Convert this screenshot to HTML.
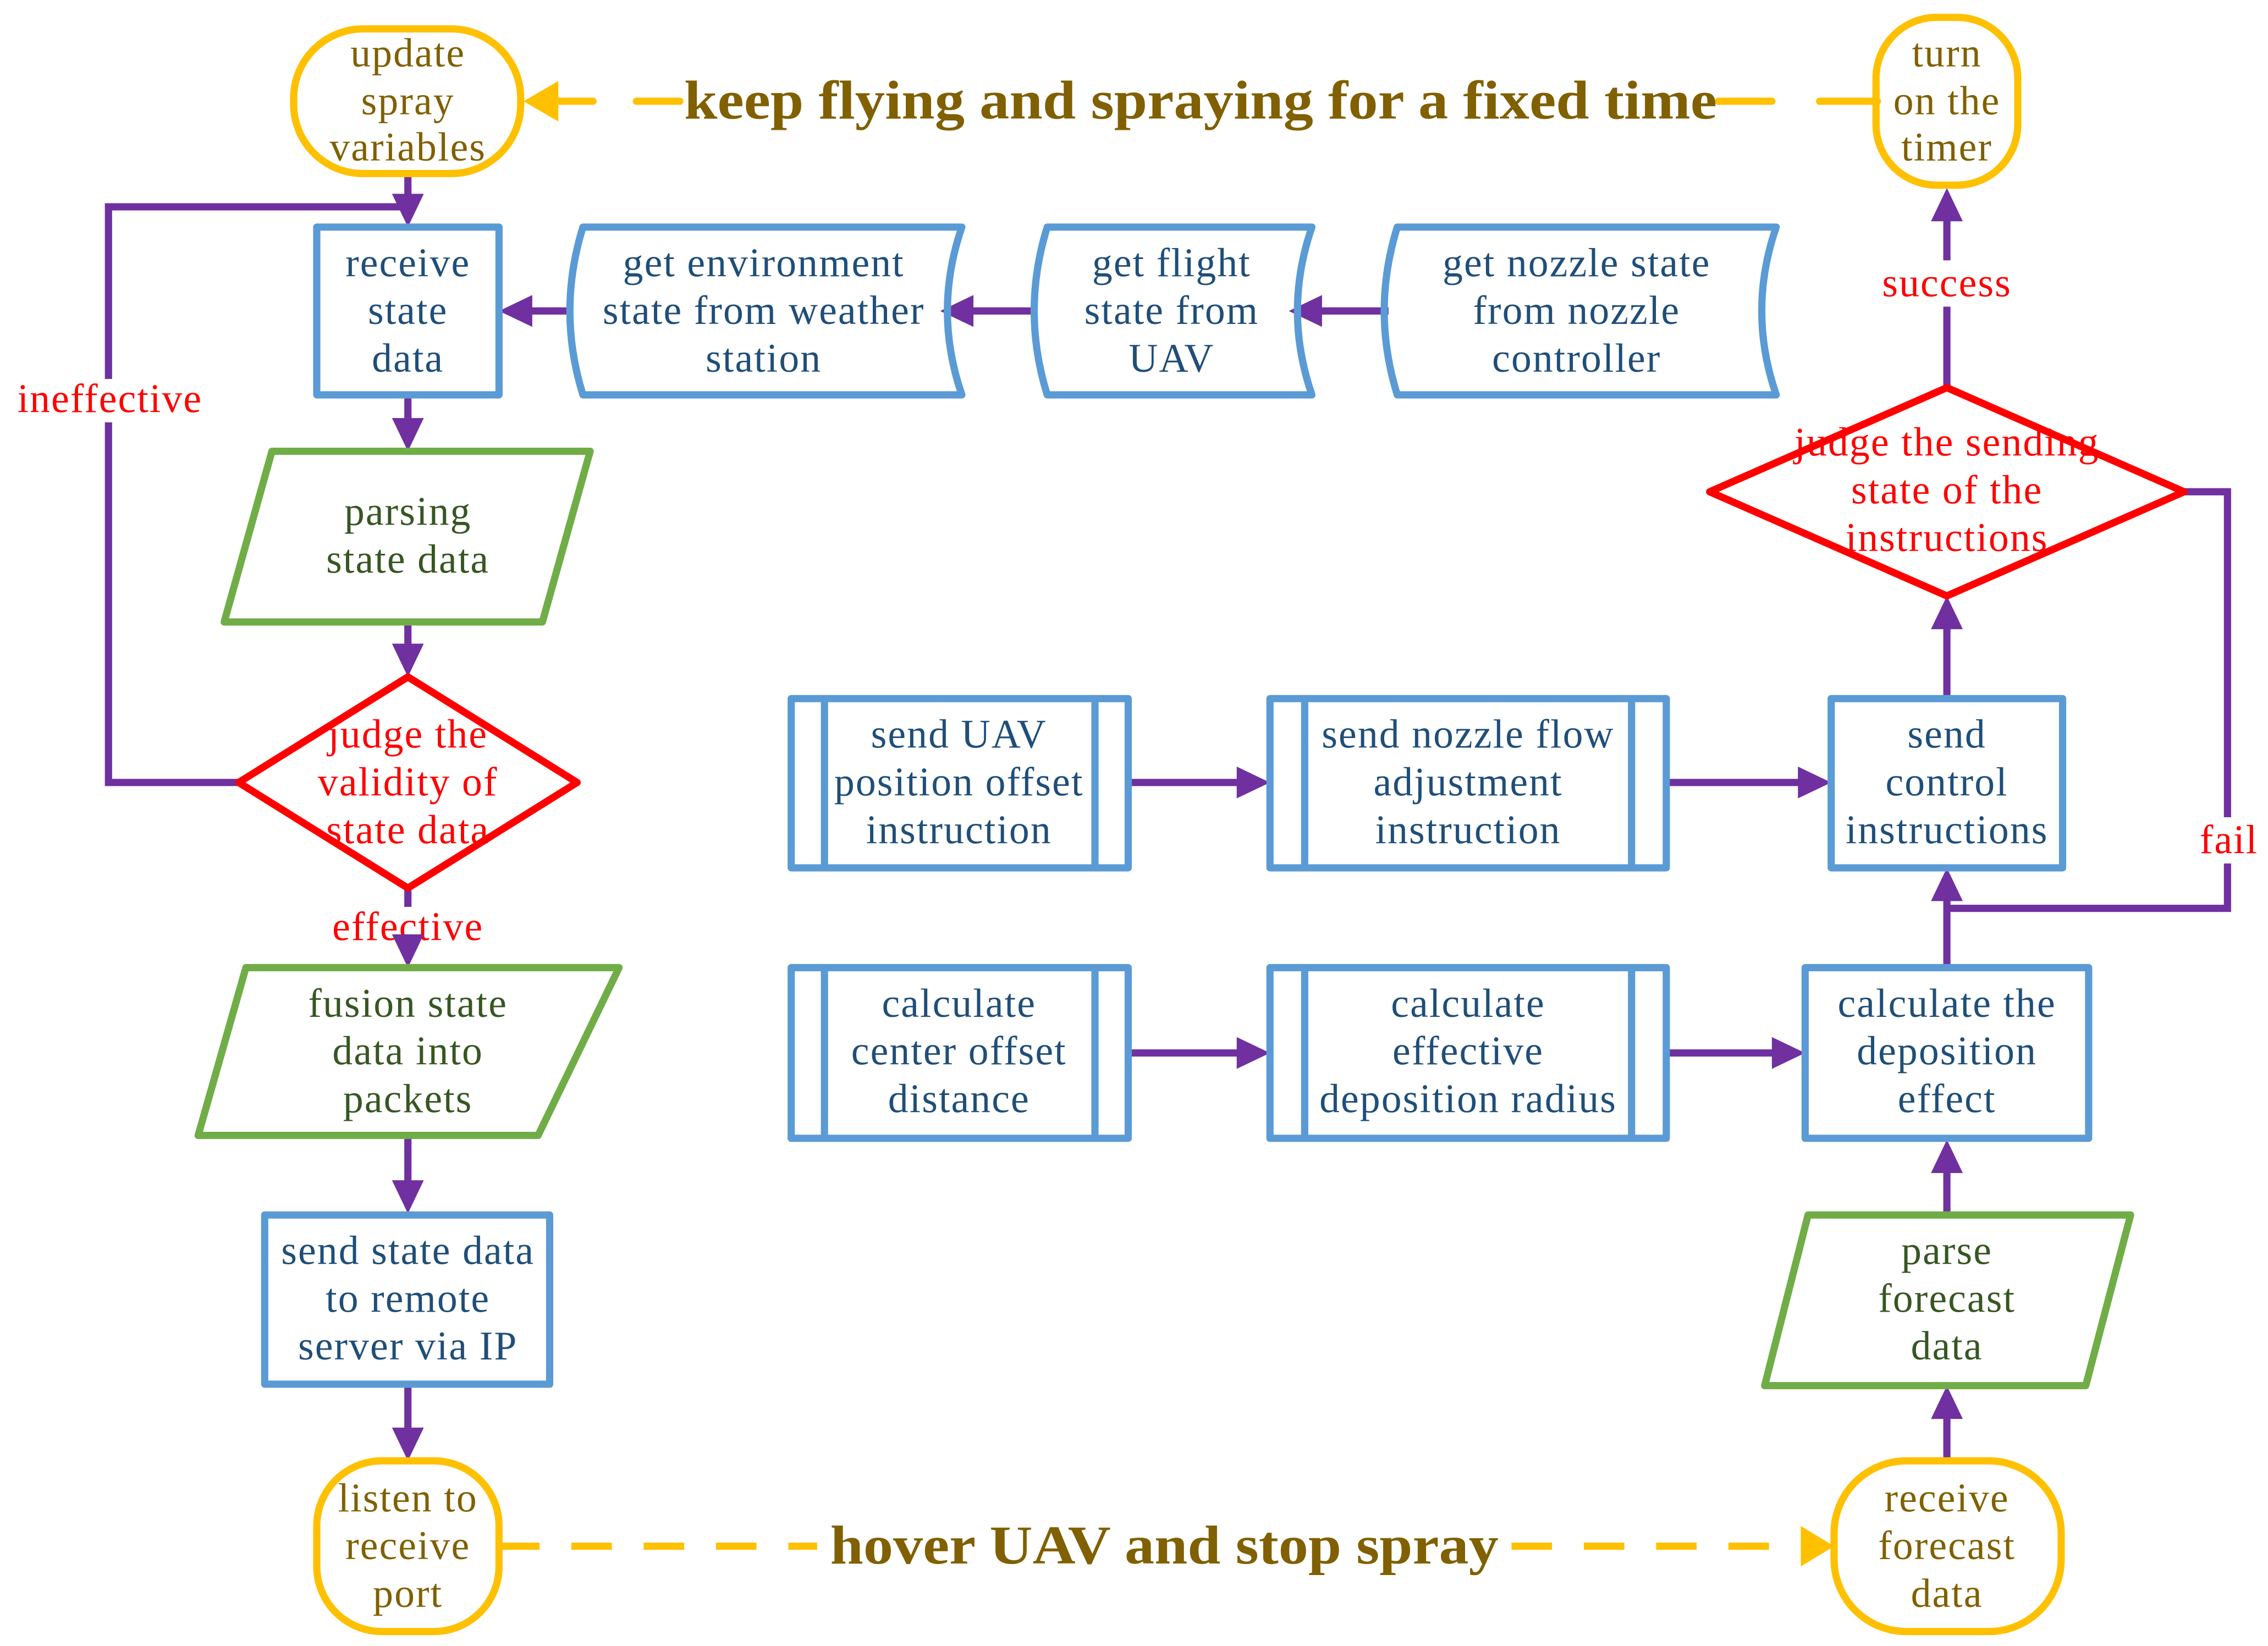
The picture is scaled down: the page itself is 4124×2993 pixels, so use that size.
<!DOCTYPE html>
<html><head><meta charset="utf-8"><style>
html,body{margin:0;padding:0;background:#fff;}
svg{display:block;}
text{font-family:"Liberation Serif",serif;text-anchor:middle;font-size:28px;letter-spacing:0.8px;}
.b{fill:none;stroke:#5B9BD5;stroke-width:5;stroke-linejoin:round;}
.g{fill:none;stroke:#70AD47;stroke-width:5;stroke-linejoin:round;}
.r{fill:none;stroke:#FF0000;stroke-width:5;stroke-linejoin:round;}
.y{fill:none;stroke:#FFC000;stroke-width:5;}
.p{fill:none;stroke:#7030A0;stroke-width:5;}
.ph{fill:#7030A0;}
.tb{fill:#1F4E79;} .tg{fill:#375623;} .tr{fill:#FF0000;} .ty{fill:#806000;}
</style></head><body>
<svg width="4124" height="2993" viewBox="0 0 1568 1138" preserveAspectRatio="none" xmlns="http://www.w3.org/2000/svg">
<rect width="1568" height="1138" fill="#fff"/>
<!-- top dashed line -->
<path class="y" d="M380 70 H410 M440 70 H470 M1188 70 H1225 M1258 70 H1298" stroke-linecap="round"/>
<polygon points="362,70 386,56 386,84" fill="#FFC000"/>
<text x="830" y="82" class="ty" style="font-size:38px;font-weight:bold;letter-spacing:0" textLength="714" lengthAdjust="spacingAndGlyphs">keep flying and spraying for a fixed time</text>
<!-- bottom dashed line -->
<path class="y" d="M345 1069 H1250" stroke-dasharray="28,22" stroke-width="8"/>
<rect x="565" y="1045" width="478" height="50" fill="#fff"/>
<polygon points="1268,1069 1245,1055 1245,1083" fill="#FFC000"/>
<text x="805" y="1081" class="ty" style="font-size:38px;font-weight:bold;letter-spacing:0" textLength="462" lengthAdjust="spacingAndGlyphs">hover UAV and stop spray</text>

<!-- purple connectors -->
<path class="p" d="M282 120 V150 M282 273 V295 M282 430 V452 M282 614 V658 M282 785 V822 M282 957 V992"/>
<path class="p" d="M165 541 H75 V143 H282"/>
<rect x="10" y="262" width="132" height="30" fill="#fff"/>
<text x="76" y="285" class="tr">ineffective</text>
<rect x="225" y="627" width="115" height="30" fill="#fff"/>
<text x="282" y="650" class="tr">effective</text>
<polygon class="ph" points="282,157 271,134 293,134"/>
<polygon class="ph" points="282,312 271,289 293,289"/>
<polygon class="ph" points="282,468 271,445 293,445"/>
<polygon class="ph" points="282,669 271,646 293,646"/>
<polygon class="ph" points="282,839 271,816 293,816"/>
<polygon class="ph" points="282,1010 271,987 293,987"/>
<!-- top row arrows -->
<path class="p" d="M392 215 H360 M713 215 H670 M960 215 H910"/>
<polygon class="ph" points="345,215 368,204 368,226"/>
<polygon class="ph" points="650,215 673,204 673,226"/>
<polygon class="ph" points="891,215 914,204 914,226"/>
<!-- middle arrows -->
<path class="p" d="M780 541 H860 M1152 541 H1248 M780 728 H860 M1152 728 H1230"/>
<polygon class="ph" points="878,541 855,530 855,552"/>
<polygon class="ph" points="1266,541 1243,530 1243,552"/>
<polygon class="ph" points="878,728 855,717 855,739"/>
<polygon class="ph" points="1248,728 1225,717 1225,739"/>
<!-- right column -->
<path class="p" d="M1346 1010 V975 M1346 840 V805 M1346 669 V615 M1346 483 V428 M1346 268 V145"/>
<path class="p" d="M1510 340 H1540 V628 H1346"/>
<polygon class="ph" points="1346,958 1335,981 1357,981"/>
<polygon class="ph" points="1346,788 1335,811 1357,811"/>
<polygon class="ph" points="1346,600 1335,623 1357,623"/>
<polygon class="ph" points="1346,412 1335,435 1357,435"/>
<polygon class="ph" points="1346,130 1335,153 1357,153"/>
<rect x="1295" y="180" width="102" height="32" fill="#fff"/>
<text x="1346" y="205" class="tr">success</text>
<rect x="1520" y="565" width="45" height="32" fill="#fff"/>
<text x="1541" y="590" class="tr">fail</text>

<!-- terminators -->
<rect class="y" x="203" y="20" width="157" height="100" rx="48" ry="48" fill="#fff"/>
<text class="ty" x="282" y="46">update</text><text class="ty" x="282" y="79">spray</text><text class="ty" x="282" y="111">variables</text>
<rect class="y" x="1297" y="12" width="98" height="116" rx="42" ry="42" fill="#fff"/>
<text class="ty" x="1346" y="46">turn</text><text class="ty" x="1346" y="79">on the</text><text class="ty" x="1346" y="111">timer</text>
<rect class="y" x="219" y="1010" width="126" height="118" rx="45" ry="45" fill="#fff"/>
<text class="ty" x="282" y="1045">listen to</text><text class="ty" x="282" y="1078">receive</text><text class="ty" x="282" y="1111">port</text>
<rect class="y" x="1268" y="1010" width="157" height="118" rx="50" ry="50" fill="#fff"/>
<text class="ty" x="1346" y="1045">receive</text><text class="ty" x="1346" y="1078">forecast</text><text class="ty" x="1346" y="1111">data</text>

<!-- boxes -->
<rect class="b" x="219" y="157" width="126" height="116"/>
<text class="tb" x="282" y="191">receive</text><text class="tb" x="282" y="224">state</text><text class="tb" x="282" y="257">data</text>

<path class="b" d="M403 157 H665 Q645 215 665 273 H403 Q385 215 403 157 Z"/>
<text class="tb" x="528" y="191">get environment</text><text class="tb" x="528" y="224">state from weather</text><text class="tb" x="528" y="257">station</text>
<path class="b" d="M724 157 H907 Q887 215 907 273 H724 Q706 215 724 157 Z"/>
<text class="tb" x="810" y="191">get flight</text><text class="tb" x="810" y="224">state from</text><text class="tb" x="810" y="257">UAV</text>
<path class="b" d="M966 157 H1228 Q1208 215 1228 273 H966 Q948 215 966 157 Z"/>
<text class="tb" x="1090" y="191">get nozzle state</text><text class="tb" x="1090" y="224">from nozzle</text><text class="tb" x="1090" y="257">controller</text>

<path class="g" d="M188 312 H408 L375 430 H155 Z"/>
<text class="tg" x="282" y="363">parsing</text><text class="tg" x="282" y="396">state data</text>

<polygon class="r" points="282,468 399,541 282,614 165,541" fill="none"/>
<text class="tr" x="282" y="517">judge the</text><text class="tr" x="282" y="550">validity of</text><text class="tr" x="282" y="583">state data</text>

<path class="g" d="M170 669 H428 L372 785 H137 Z"/>
<text class="tg" x="282" y="703">fusion state</text><text class="tg" x="282" y="736">data into</text><text class="tg" x="282" y="769">packets</text>

<rect class="b" x="183" y="840" width="197" height="117"/>
<text class="tb" x="282" y="874">send state data</text><text class="tb" x="282" y="907">to remote</text><text class="tb" x="282" y="940">server via IP</text>

<rect class="b" x="547" y="483" width="233" height="117"/><path class="b" d="M570 483 V600 M757 483 V600"/>
<text class="tb" x="663" y="517">send UAV</text><text class="tb" x="663" y="550">position offset</text><text class="tb" x="663" y="583">instruction</text>
<rect class="b" x="878" y="483" width="274" height="117"/><path class="b" d="M902 483 V600 M1128 483 V600"/>
<text class="tb" x="1015" y="517">send nozzle flow</text><text class="tb" x="1015" y="550">adjustment</text><text class="tb" x="1015" y="583">instruction</text>
<rect class="b" x="1266" y="483" width="160" height="117"/>
<text class="tb" x="1346" y="517">send</text><text class="tb" x="1346" y="550">control</text><text class="tb" x="1346" y="583">instructions</text>

<rect class="b" x="547" y="669" width="233" height="118"/><path class="b" d="M570 669 V787 M757 669 V787"/>
<text class="tb" x="663" y="703">calculate</text><text class="tb" x="663" y="736">center offset</text><text class="tb" x="663" y="769">distance</text>
<rect class="b" x="878" y="669" width="274" height="118"/><path class="b" d="M902 669 V787 M1128 669 V787"/>
<text class="tb" x="1015" y="703">calculate</text><text class="tb" x="1015" y="736">effective</text><text class="tb" x="1015" y="769">deposition radius</text>
<rect class="b" x="1248" y="669" width="196" height="118"/>
<text class="tb" x="1346" y="703">calculate the</text><text class="tb" x="1346" y="736">deposition</text><text class="tb" x="1346" y="769">effect</text>

<path class="g" d="M1250 840 H1473 L1442 958 H1220 Z"/>
<text class="tg" x="1346" y="874">parse</text><text class="tg" x="1346" y="907">forecast</text><text class="tg" x="1346" y="940">data</text>

<polygon class="r" points="1346,268 1510,340 1346,412 1182,340"/>
<text class="tr" x="1346" y="315">judge the sending</text><text class="tr" x="1346" y="348">state of the</text><text class="tr" x="1346" y="381">instructions</text>
</svg>
</body></html>
